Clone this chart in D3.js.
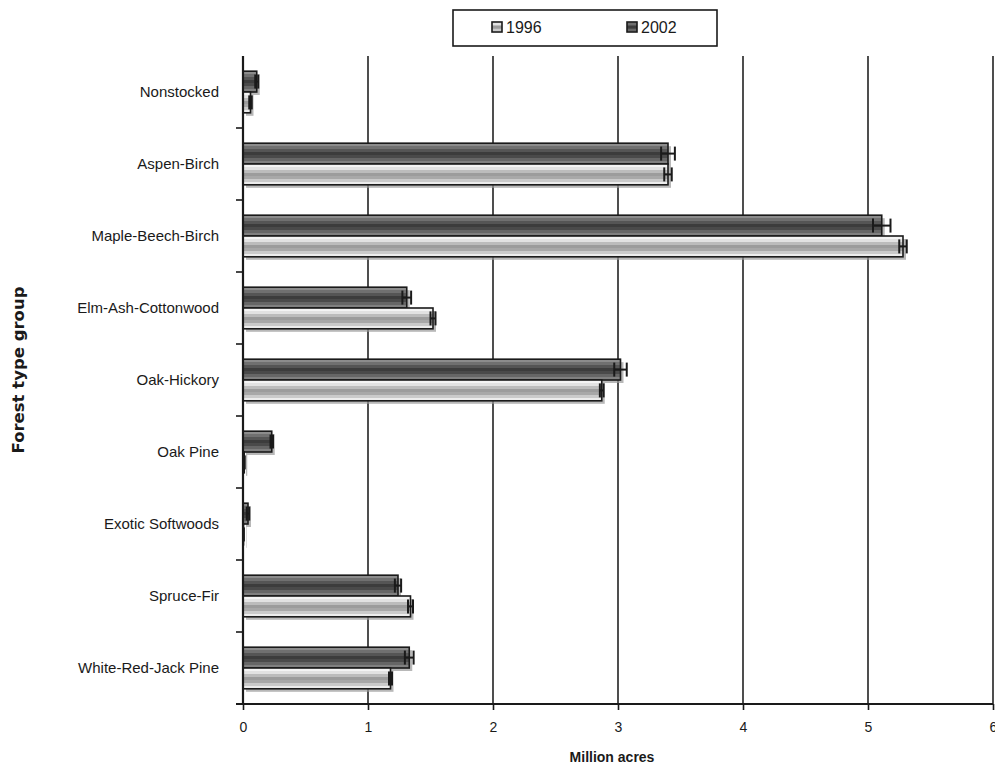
<!DOCTYPE html>
<html>
<head>
<meta charset="utf-8">
<script src="https://cdn.jsdelivr.net/npm/d3@7"></script>
<style>
  body { margin: 0; background: #fff; }
  svg { display: block; }
</style>
</head>
<body>
<div id="chart"></div>
<script>
const categories = ["Nonstocked", "Aspen-Birch", "Maple-Beech-Birch", "Elm-Ash-Cottonwood",
  "Oak-Hickory", "Oak Pine", "Exotic Softwoods", "Spruce-Fir", "White-Red-Jack Pine"]

// million acres
const values1996 = [0.06, 3.40, 5.28, 1.52, 2.87, 0.01, 0.004, 1.34, 1.18]
const errors1996 = [0.01, 0.03, 0.03, 0.02, 0.015, 0.004, 0.003, 0.02, 0.012]
const values2002 = [0.11, 3.40, 5.11, 1.31, 3.02, 0.23, 0.04, 1.24, 1.33]
const errors2002 = [0.012, 0.055, 0.07, 0.035, 0.05, 0.01, 0.01, 0.025, 0.035]

const xTicks = [0, 1, 2, 3, 4, 5, 6]
const seriesNames = ["1996", "2002"]

const WIDTH = 995
const HEIGHT = 772
const plotLeft = 243, plotRight = 993, plotTop = 56, plotBottom = 704

const svg = d3.select('#chart').append('svg')
  .attr('width', WIDTH)
  .attr('height', HEIGHT)
  .style('font-family', '"Liberation Sans", Arial, sans-serif')

const x = d3.scaleLinear().domain([0, 6]).range([plotLeft, plotRight])
const y = d3.scaleBand().domain(categories).range([plotTop, plotBottom])
// 2002 sits above 1996 inside each band
const sub = d3.scaleBand().domain(["2002", "1996"]).range([0, y.bandwidth()]).paddingOuter(0.73).paddingInner(0)

// striped gradients, like the old spreadsheet bars
const defs = svg.append('defs')
const stripes = {
  g1996: ['#f4f4f4', '#e2e2e2', '#bcbcbc', '#9c9c9c', '#a8a8a8', '#cacaca', '#ececec'],
  g2002: ['#8c8c8c', '#707070', '#555555', '#3c3c3c', '#4a4a4a', '#666666', '#808080']
}
Object.entries(stripes).forEach(([id, cols]) => {
  const g = defs.append('linearGradient').attr('id', id)
    .attr('x1', 0).attr('x2', 0).attr('y1', 0).attr('y2', 1)
  cols.forEach((c, i) => {
    g.append('stop').attr('offset', i / cols.length).attr('stop-color', c)
    g.append('stop').attr('offset', (i + 1) / cols.length).attr('stop-color', c)
  })
})

// gridlines
svg.append('g')
  .selectAll('line')
  .data(xTicks.slice(1))
  .join('line')
  .attr('x1', d => x(d)).attr('x2', d => x(d))
  .attr('y1', plotTop).attr('y2', plotBottom)
  .attr('stroke', '#222').attr('stroke-width', 1.6)

const rows = categories.map((c, i) => ({
  cat: c,
  bars: [
    { s: "2002", v: values2002[i], e: errors2002[i] },
    { s: "1996", v: values1996[i], e: errors1996[i] }
  ]
}))

const group = svg.append('g')
  .selectAll('g')
  .data(rows)
  .join('g')
  .attr('transform', d => `translate(0,${y(d.cat)})`)

// shadow
group.selectAll('rect.shadow')
  .data(d => d.bars)
  .join('rect')
  .attr('class', 'shadow')
  .attr('x', x(0) + 3)
  .attr('y', d => sub(d.s) + 3)
  .attr('width', d => x(d.v) - x(0))
  .attr('height', sub.bandwidth())
  .attr('fill', '#9a9a9a')
  .attr('opacity', 0.7)

group.selectAll('rect.bar')
  .data(d => d.bars)
  .join('rect')
  .attr('class', 'bar')
  .attr('x', x(0))
  .attr('y', d => sub(d.s))
  .attr('width', d => x(d.v) - x(0))
  .attr('height', sub.bandwidth())
  .attr('fill', d => `url(#g${d.s})`)
  .attr('stroke', '#1a1a1a')
  .attr('stroke-width', 1.6)

// error bars
const err = group.selectAll('g.err')
  .data(d => d.bars)
  .join('g')
  .attr('class', 'err')
  .attr('stroke', '#1a1a1a')
  .attr('stroke-width', 2)

err.append('line')
  .attr('x1', d => x(d.v - d.e)).attr('x2', d => x(d.v + d.e))
  .attr('y1', d => sub(d.s) + sub.bandwidth() / 2)
  .attr('y2', d => sub(d.s) + sub.bandwidth() / 2)

err.selectAll('line.cap')
  .data(d => [d.v - d.e, d.v + d.e].map(v => ({ v, s: d.s })))
  .join('line')
  .attr('class', 'cap')
  .attr('x1', d => x(d.v)).attr('x2', d => x(d.v))
  .attr('y1', d => sub(d.s) + sub.bandwidth() / 2 - 7)
  .attr('y2', d => sub(d.s) + sub.bandwidth() / 2 + 7)

// axes
const xAxis = svg.append('g')
  .attr('transform', `translate(0,${plotBottom})`)
  .call(d3.axisBottom(x).tickValues(xTicks).tickSize(6).tickPadding(12).tickFormat(d3.format('d')))
xAxis.select('.domain').remove()
xAxis.selectAll('line').attr('stroke', '#1a1a1a').attr('stroke-width', 1.6)
xAxis.selectAll('text').attr('font-size', 14).attr('fill', '#1a1a1a').attr('font-family', '"Liberation Sans", Arial, sans-serif')

svg.append('line')
  .attr('x1', plotLeft - 7).attr('x2', plotRight)
  .attr('y1', plotBottom).attr('y2', plotBottom)
  .attr('stroke', '#1a1a1a').attr('stroke-width', 2)

const yAxis = svg.append('g')
  .attr('transform', `translate(${plotLeft},0)`)
  .call(d3.axisLeft(y).tickSize(0).tickPadding(24))
yAxis.select('.domain').remove()
yAxis.selectAll('text').attr('font-size', 15).attr('fill', '#1a1a1a').attr('font-family', '"Liberation Sans", Arial, sans-serif')

// category separators on the value axis
svg.append('g')
  .selectAll('line')
  .data(categories.slice(1))
  .join('line')
  .attr('x1', plotLeft - 7).attr('x2', plotLeft)
  .attr('y1', d => y(d)).attr('y2', d => y(d))
  .attr('stroke', '#1a1a1a').attr('stroke-width', 1.6)

svg.append('line')
  .attr('x1', plotLeft).attr('x2', plotLeft)
  .attr('y1', plotTop).attr('y2', plotBottom)
  .attr('stroke', '#1a1a1a').attr('stroke-width', 2.2)

// titles
svg.append('text')
  .attr('x', 612).attr('y', 762)
  .attr('text-anchor', 'middle')
  .attr('font-size', 14).attr('font-weight', 'bold').attr('fill', '#1a1a1a')
  .text('Million acres')

svg.append('text')
  .attr('transform', 'translate(24,370) rotate(-90)')
  .attr('text-anchor', 'middle')
  .attr('font-family', '"DejaVu Sans", Verdana, sans-serif')
  .attr('font-size', 16.5).attr('font-weight', 'bold').attr('fill', '#1a1a1a')
  .text('Forest type group')

// legend
const legend = svg.append('g')
legend.append('rect')
  .attr('x', 453).attr('y', 10).attr('width', 264).attr('height', 36)
  .attr('fill', '#fff').attr('stroke', '#1a1a1a').attr('stroke-width', 1.6)

const item = legend.selectAll('g.item')
  .data(seriesNames)
  .join('g')
  .attr('class', 'item')
  .attr('transform', (d, i) => `translate(${492 + i * 135},22)`)

item.append('rect')
  .attr('width', 10).attr('height', 10)
  .attr('fill', d => `url(#g${d})`)
  .attr('stroke', '#1a1a1a').attr('stroke-width', 1.6)

item.append('text')
  .attr('x', 14).attr('y', 11)
  .attr('font-size', 16).attr('fill', '#1a1a1a')
  .text(d => d)
</script>
</body>
</html>
